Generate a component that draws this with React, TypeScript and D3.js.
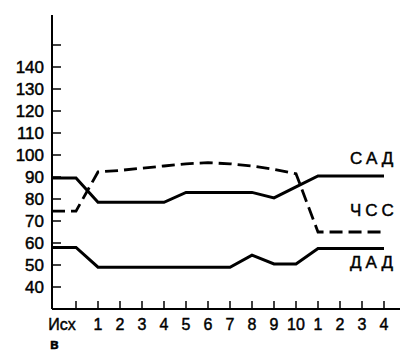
import React from "react";
import * as d3 from "d3";

const categories = ["Исх", "1", "2", "3", "4", "5", "6", "7", "8", "9", "10", "1", "2", "3", "4"];
const sad = [89.5, 78.5, 78.5, 78.5, 78.5, 83, 83, 83, 83, 80.5, 85.5, 90.5, 90.5, 90.5, 90.5];
const chss = [74.5, 92.3, 93, 94, 95, 96, 96.5, 96, 95, 93.5, 91.5, 65, 65, 65, 65];
const dad = [58, 49, 49, 49, 49, 49, 49, 49, 54.5, 50.5, 50.5, 57.5, 57.5, 57.5, 57.5];
const yTicks = [40, 50, 60, 70, 80, 90, 100, 110, 120, 130, 140, 150];
const yLabels = [40, 50, 60, 70, 80, 90, 100, 110, 120, 130, 140];
const seriesLabels = ["САД", "ЧСС", "ДАД"];
const panelLetter = "в";

const W = 405;
const H = 351;
const axisX = 52;
const axisY = 309;
const axisTop = 15;
const axisRight = 400;

export default function App() {
  const x = d3.scaleLinear().domain([0, categories.length - 1]).range([76, 384]);
  const y = d3.scaleLinear().domain([30, 150]).range([axisY, 45]);
  const xStart = x.invert(axisX);

  const line = d3
    .line<[number, number]>()
    .x((d) => x(d[0]))
    .y((d) => y(d[1]));

  const pts = (vals: number[]): [number, number][] => [
    [xStart, vals[0]],
    ...vals.map((v, i) => [i, v] as [number, number]),
  ];

  const font = "'Liberation Sans', Arial, sans-serif";
  const txt = { fontFamily: font, fill: "#000", stroke: "#000", strokeWidth: 0.45 };

  return (
    <svg width={W} height={H} style={{ position: "absolute", left: 0, top: 0, background: "#fff" }}>
      <rect x={0} y={0} width={W} height={H} fill="#fff" />
      {/* axes */}
      <line x1={axisX} y1={axisTop} x2={axisX} y2={axisY} stroke="#000" strokeWidth={2} />
      <line x1={axisX} y1={axisY} x2={axisRight} y2={axisY} stroke="#000" strokeWidth={2} />
      {yTicks.map((t) => (
        <line key={"yt" + t} x1={axisX} x2={axisX + 9} y1={y(t)} y2={y(t)} stroke="#000" strokeWidth={1.5} />
      ))}
      {yLabels.map((t) => (
        <text key={"yl" + t} x={44} y={y(t)} dy="0.36em" textAnchor="end" fontSize={17} {...txt}>
          {t}
        </text>
      ))}
      {categories.map((c, i) => (
        <line key={"xt" + i} x1={x(i)} x2={x(i)} y1={axisY} y2={axisY - 8} stroke="#000" strokeWidth={1.5} />
      ))}
      {categories.map((c, i) => (
        <text
          key={"xl" + i}
          x={i === 0 ? x(i) - 14 : x(i)}
          y={330}
          textAnchor="middle"
          fontSize={16}
          {...txt}
        >
          {c}
        </text>
      ))}
      <text x={50} y={349} fontSize={14} fontWeight="bold" {...txt}>
        {panelLetter}
      </text>
      {/* series */}
      <path d={line(pts(sad)) || ""} fill="none" stroke="#000" strokeWidth={3} />
      <path d={line(pts(chss)) || ""} fill="none" stroke="#000" strokeWidth={2.8} strokeDasharray="13,6" />
      <path d={line(pts(dad)) || ""} fill="none" stroke="#000" strokeWidth={3} />
      {/* series labels */}
      {seriesLabels.map((s, k) => (
        <text
          key={"sl" + k}
          x={350}
          y={k === 0 ? 164 : k === 1 ? 216 : 268}
          fontSize={17}
          letterSpacing={4}
          {...txt}
        >
          {s}
        </text>
      ))}
    </svg>
  );
}
